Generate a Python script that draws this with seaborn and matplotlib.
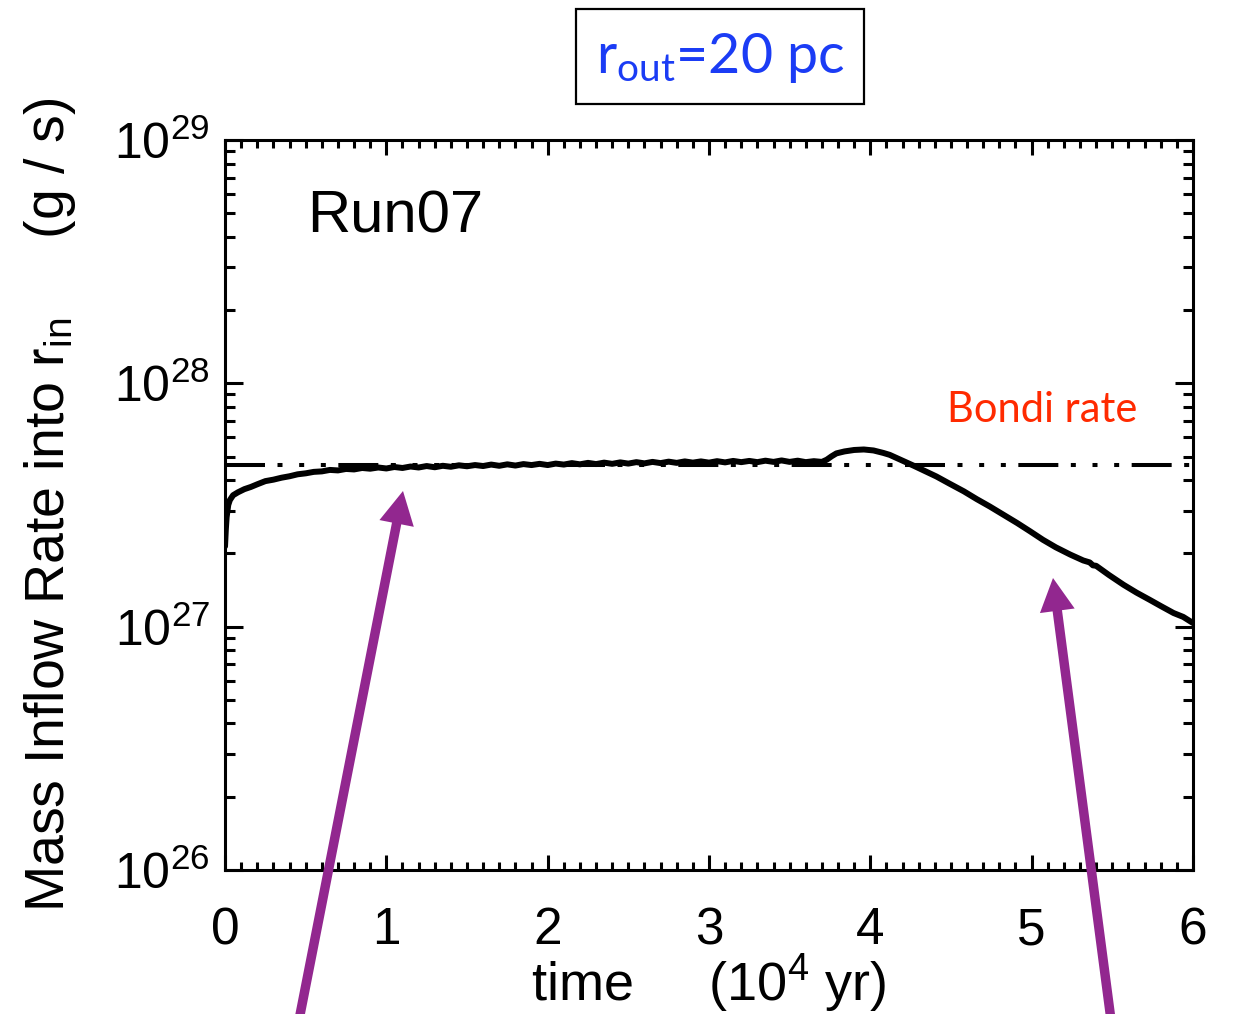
import numpy as np
import pandas as pd
import matplotlib
matplotlib.use("Agg")
import matplotlib.pyplot as plt
import seaborn as sns
from matplotlib.ticker import LogLocator, MultipleLocator, FuncFormatter, NullFormatter
from matplotlib.patches import Rectangle

# Mass inflow rate into r_in versus time (time in units of 1e4 yr, rate as log10 g/s)
time_1e4yr = [
    0.00, 0.005, 0.01, 0.02, 0.03, 0.05, 0.08, 0.12, 0.16, 0.20,
    0.25, 0.30, 0.35, 0.40, 0.45, 0.50, 0.55, 0.60, 0.65, 0.70,
    0.75, 0.80, 0.85, 0.90, 0.95, 1.00, 1.05, 1.10, 1.15, 1.20,
    1.25, 1.30, 1.35, 1.40, 1.45, 1.50, 1.55, 1.60, 1.65, 1.70,
    1.75, 1.80, 1.85, 1.90, 1.95, 2.00, 2.05, 2.10, 2.15, 2.20,
    2.25, 2.30, 2.35, 2.40, 2.45, 2.50, 2.55, 2.60, 2.65, 2.70,
    2.75, 2.80, 2.85, 2.90, 2.95, 3.00, 3.05, 3.10, 3.15, 3.20,
    3.25, 3.30, 3.35, 3.40, 3.45, 3.50, 3.55, 3.60, 3.65, 3.70,
    3.73, 3.76, 3.79, 3.84, 3.90, 3.96, 4.02, 4.08, 4.12, 4.19,
    4.27, 4.34, 4.41, 4.49, 4.58, 4.66, 4.74, 4.82, 4.91, 4.99,
    5.07, 5.15, 5.24, 5.32, 5.36, 5.38, 5.40, 5.48, 5.57, 5.65,
    5.73, 5.80, 5.88, 5.94, 6.00,
]
log_rate = [
    27.330, 27.400, 27.450, 27.500, 27.520, 27.540, 27.552, 27.565, 27.574, 27.585,
    27.598, 27.604, 27.612, 27.618, 27.626, 27.630, 27.636, 27.638, 27.644, 27.642,
    27.648, 27.646, 27.652, 27.649, 27.654, 27.650, 27.656, 27.652, 27.658, 27.654,
    27.660, 27.655, 27.661, 27.657, 27.663, 27.659, 27.664, 27.660, 27.666, 27.661,
    27.667, 27.662, 27.668, 27.664, 27.669, 27.664, 27.670, 27.666, 27.672, 27.667,
    27.673, 27.668, 27.674, 27.669, 27.675, 27.670, 27.676, 27.671, 27.677, 27.672,
    27.678, 27.673, 27.679, 27.674, 27.679, 27.674, 27.680, 27.675, 27.681, 27.676,
    27.681, 27.676, 27.682, 27.677, 27.683, 27.677, 27.682, 27.676, 27.680, 27.677,
    27.686, 27.700, 27.712, 27.720, 27.726, 27.728, 27.724, 27.714, 27.706, 27.685,
    27.661, 27.639, 27.617, 27.588, 27.556, 27.524, 27.494, 27.462, 27.426, 27.392,
    27.357, 27.326, 27.296, 27.272, 27.264, 27.252, 27.250, 27.212, 27.172, 27.140,
    27.111, 27.085, 27.056, 27.040, 27.015,
]
bondi_rate = 4.63e27

run_name = "Run07"
bondi_text = "Bondi rate"
panel_title = r"$\mathsf{r_{out}}$=20 pc"
x_label = "time     (10$^{4}$ yr)"
y_label = "Mass Inflow Rate into r$_{\\rm in}$     (g / s)"

sns.set_theme(style="ticks")
plt.rcParams["font.family"] = ["Liberation Sans", "DejaVu Sans"]
plt.rcParams["mathtext.fontset"] = "custom"
plt.rcParams["mathtext.rm"] = "Liberation Sans"
plt.rcParams["mathtext.it"] = "Liberation Sans"
plt.rcParams["mathtext.sf"] = "Lato"
plt.rcParams["lines.scale_dashes"] = False
plt.rcParams["axes.edgecolor"] = "black"

fig = plt.figure(figsize=(12.33, 10.14), dpi=100)
ax = fig.add_axes([0.1825, 0.142, 0.785, 0.72])

df = pd.DataFrame({"time": time_1e4yr, "rate": 10.0 ** np.array(log_rate)})
sns.lineplot(data=df, x="time", y="rate", ax=ax, color="black", linewidth=4.3,
             sort=False, estimator=None)

# Bondi rate reference line (long dash followed by three dots)
bondi_df = pd.DataFrame({"time": [0.0, 6.0], "rate": [bondi_rate, bondi_rate]})
bondi_line, = ax.plot(bondi_df["time"], bondi_df["rate"], color="black", lw=2.9)
bondi_line.set_dashes((28.8, 9.0, 3.6, 12.0, 3.6, 12.0, 3.6, 9.0))
bondi_line.set_dash_capstyle("butt")

ax.set_yscale("log")
ax.set_xlim(0, 6)
ax.set_ylim(1e26, 1e29)

ax.xaxis.set_major_locator(MultipleLocator(1))
ax.xaxis.set_minor_locator(MultipleLocator(0.1))
ax.xaxis.set_major_formatter(FuncFormatter(lambda v, p: f"{int(round(v))}"))
ax.yaxis.set_major_locator(LogLocator(base=10, numticks=10))
ax.yaxis.set_minor_locator(LogLocator(base=10, subs=np.arange(2, 10), numticks=10))
ax.yaxis.set_major_formatter(FuncFormatter(lambda v, p: r"$10^{%d}$" % int(round(np.log10(v)))))
ax.yaxis.set_minor_formatter(NullFormatter())

ax.tick_params(which="both", direction="in", top=True, right=True,
               width=2.2, color="black", labelcolor="black")
ax.tick_params(axis="y", which="major", length=13, pad=11, labelsize=36)
ax.tick_params(axis="y", which="minor", length=7)
ax.tick_params(axis="x", which="major", length=11, pad=26, labelsize=37)
ax.tick_params(axis="x", which="minor", length=5.8)
for s in ax.spines.values():
    s.set_linewidth(2.2)
    s.set_color("black")
ax.grid(False)

ax.set_xlabel(x_label, fontsize=39, color="black")
ax.set_ylabel(y_label, fontsize=40, color="black")
ax.xaxis.label.set_va("center")
ax.yaxis.label.set_va("center")
ax.xaxis.set_label_coords(0.5, -0.156)
ax.yaxis.set_label_coords(-0.181, 0.5)

ax.text(0.0847, 0.895, run_name, transform=ax.transAxes, fontsize=43,
        ha="left", va="center", color="black")
ax.text(0.943, 0.630, bondi_text, transform=ax.transAxes, fontsize=30,
        ha="right", va="center", color="#ff2a00", family="Lato")

# Boxed panel title
fig.add_artist(Rectangle((576 / 1233, 1 - 104 / 1014), 288 / 1233, 95 / 1014,
                         transform=fig.transFigure, fill=False, lw=1.6,
                         ec="black"))
fig.text(720 / 1233, 1 - 58 / 1014, panel_title, fontsize=40, family="Lato",
         color="#1b3cf5", ha="center", va="center")

# Purple pointer arrows
arrow_style = "simple,head_length=1.19,head_width=1.26,tail_width=0.34"
for tip, tail in [((403, 1014 - 491), (299, -6)), ((1053, 1014 - 578), (1111, -6))]:
    ax.annotate("", xy=tip, xycoords="figure pixels", xytext=tail,
                textcoords="figure pixels", annotation_clip=False,
                arrowprops=dict(arrowstyle=arrow_style, mutation_scale=20,
                                color="#92278f", lw=0, shrinkA=0, shrinkB=0))

fig.savefig("out.png", dpi=100)
